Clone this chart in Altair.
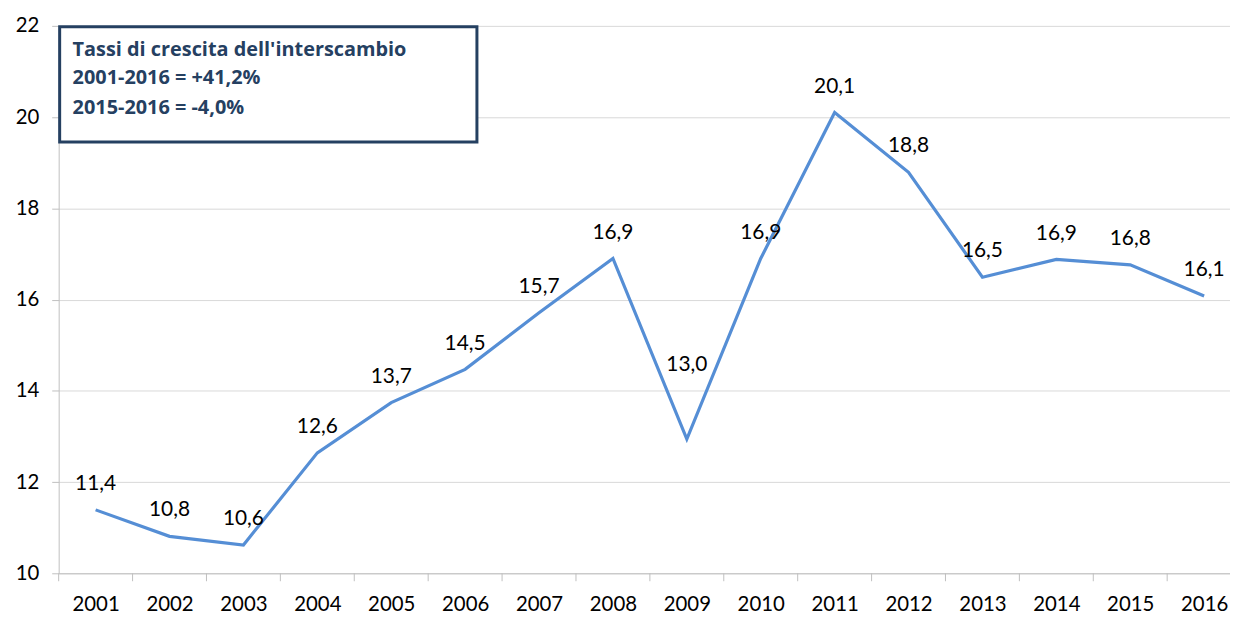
import altair as alt
import pandas as pd

years = list(range(2001, 2017))
values = [11.39, 10.81, 10.62, 12.64, 13.74, 14.47, 15.71, 16.90, 12.94,
          16.90, 20.10, 18.79, 16.49, 16.88, 16.76, 16.08]
labels = ["11,4", "10,8", "10,6", "12,6", "13,7", "14,5", "15,7", "16,9", "13,0",
          "16,9", "20,1", "18,8", "16,5", "16,9", "16,8", "16,1"]
tick_edges = [y + 0.5 for y in range(2000, 2016)]
y_ticks = [10, 12, 14, 16, 18, 20, 22]
box_lines = ["Tassi di crescita dell'interscambio",
             "2001-2016 = +41,2%",
             "2015-2016 = -4,0%"]

FONT = "Lato"
W, H = 1179, 551
LINE_COLOR = "#558ED5"
NAVY = "#254061"
GRID = "#D9D9D9"
AXIS = "#BFBFBF"

df = pd.DataFrame({"year": years, "value": values, "label": labels})
edges = pd.DataFrame({"edge": tick_edges})

xscale = alt.Scale(domain=[2000.5, 2016.35], nice=False, zero=False)
yscale = alt.Scale(domain=[10, 22], nice=False, zero=False)

base = alt.Chart(df)

line = base.mark_line(color=LINE_COLOR, strokeWidth=3.2).encode(
    x=alt.X("year:Q", scale=xscale, title=None,
            axis=alt.Axis(values=years, format="d", ticks=False, tickSize=0,
                          labelPadding=21, labelFontSize=20.5, labelFont=FONT,
                          labelColor="#000000", domainColor=AXIS, grid=False,
                          labelFlush=False)),
    y=alt.Y("value:Q", scale=yscale, title=None,
            axis=alt.Axis(values=y_ticks, tickSize=7, tickColor=AXIS,
                          labelPadding=13, labelFontSize=20.5, labelFont=FONT,
                          labelColor="#000000", domainColor=AXIS,
                          grid=True, gridColor=GRID, labelFlush=False)),
)

text_main = base.transform_filter(alt.datum.year != 2009).mark_text(
    fontSize=21, font=FONT, color="#000000", dy=-26, baseline="middle"
).encode(x=alt.X("year:Q", scale=xscale), y=alt.Y("value:Q", scale=yscale),
         text="label:N")

text_2009 = base.transform_filter(alt.datum.year == 2009).mark_text(
    fontSize=21, font=FONT, color="#000000", dy=-75, baseline="middle"
).encode(x=alt.X("year:Q", scale=xscale), y=alt.Y("value:Q", scale=yscale),
         text="label:N")

ticks = alt.Chart(edges).mark_rule(color=AXIS, strokeWidth=1).encode(
    x=alt.X("edge:Q", scale=xscale),
    y=alt.value(H), y2=alt.value(H + 8),
)

box = alt.Chart(pd.DataFrame({"a": [0]})).mark_rect(
    fill="white", stroke=NAVY, strokeWidth=3
).encode(x=alt.value(1), x2=alt.value(421), y=alt.value(1), y2=alt.value(117))

box_rows_y = [24, 53, 83]
box_texts = [
    alt.Chart(pd.DataFrame({"line": [txt]})).mark_text(
        fontSize=20, font="Open Sans", fontWeight="bold", color=NAVY,
        align="left", baseline="middle"
    ).encode(x=alt.value(14), y=alt.value(yy), text="line:N")
    for txt, yy in zip(box_lines, box_rows_y)
]

chart = alt.layer(line, ticks, text_main, text_2009, box, *box_texts).properties(
    width=W, height=H,
    autosize=alt.AutoSizeParams(type="none"),
    padding={"left": 51, "top": 16, "right": 0, "bottom": 40},
).configure_view(stroke=None)

chart.save("out.html", embed_options={"renderer": "svg", "actions": False})
